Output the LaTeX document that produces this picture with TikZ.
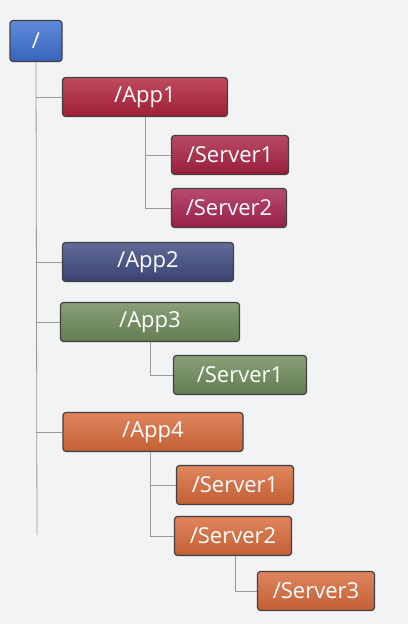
\documentclass[tikz,border=0pt]{standalone}
\usepackage{fontspec}
\setmainfont{Open Sans}
\definecolor{rootblue}{HTML}{3C70D2}
\definecolor{appred}{HTML}{B0233A}
\definecolor{srvred}{HTML}{A82242}
\definecolor{srvpink}{HTML}{A8234E}
\definecolor{appnavy}{HTML}{3F4A80}
\definecolor{appgreen}{HTML}{6E8A5A}
\definecolor{apporange}{HTML}{D86A3A}
\definecolor{bggray}{HTML}{F2F3F5}
\tikzset{
  zbox/.style={draw=black!75, line width=1.2pt, rounded corners=3pt,
    top color=#1!82!white, middle color=#1, bottom color=#1!90!black,
    text=white, minimum height=39pt, inner sep=0pt,
    font=\fontsize{22}{22}\selectfont},
  tline/.style={draw=black!40, line width=0.8pt}
}
\begin{document}
\begin{tikzpicture}[x=1pt,y=-1pt]
            \fill[bggray] (0,0) rectangle (408,624);

            \node[zbox=rootblue, minimum width=52pt, minimum height=41pt] (root) at (36,41) {/};
            \node[zbox=appred, minimum width=165pt]    (app1)  at (145,97)  {/App1};
            \node[zbox=srvred, minimum width=117pt]    (a1s1)  at (230,155) {/Server1};
            \node[zbox=srvpink, minimum width=115pt]   (a1s2)  at (229,208) {/Server2};
            \node[zbox=appnavy, minimum width=171pt]   (app2)  at (148,262) {/App2};
            \node[zbox=appgreen, minimum width=179pt]  (app3)  at (150,322) {/App3};
            \node[zbox=appgreen, minimum width=133pt]  (a3s1)  at (240,375) {/Server1};
            \node[zbox=apporange, minimum width=180pt] (app4)  at (153,432) {/App4};
            \node[zbox=apporange, minimum width=117pt] (a4s1)  at (235,485) {/Server1};
            \node[zbox=apporange, minimum width=117pt] (a4s2)  at (233,536) {/Server2};
            \node[zbox=apporange, minimum width=117pt] (a4s3)  at (316,591) {/Server3};

            \coordinate (rootend) at (37,535);
            \coordinate (a4fork) at ([xshift=-3pt]app4.south);
            \coordinate (s2fork) at ([xshift=2pt]a4s2.south);

            % trunk
            \draw[tline] (root.south) -- (rootend);
            \draw[tline] (root.south |- app1.west) -- (app1.west);
            \draw[tline] (root.south |- app2.west) -- (app2.west);
            \draw[tline] (root.south |- app3.west) -- (app3.west);
            \draw[tline] (root.south |- app4.west) -- (app4.west);

            % App1
            \draw[tline] (app1.south) |- (a1s2.west);
            \draw[tline] (app1.south |- a1s1.west) -- (a1s1.west);
            % App3
            \draw[tline] (app3.south) |- (a3s1.west);
            % App4
            \draw[tline] (a4fork) |- (a4s2.west);
            \draw[tline] (a4fork |- a4s1.west) -- (a4s1.west);
            \draw[tline] (s2fork) |- (a4s3.west);
        \end{tikzpicture}
\end{document}
